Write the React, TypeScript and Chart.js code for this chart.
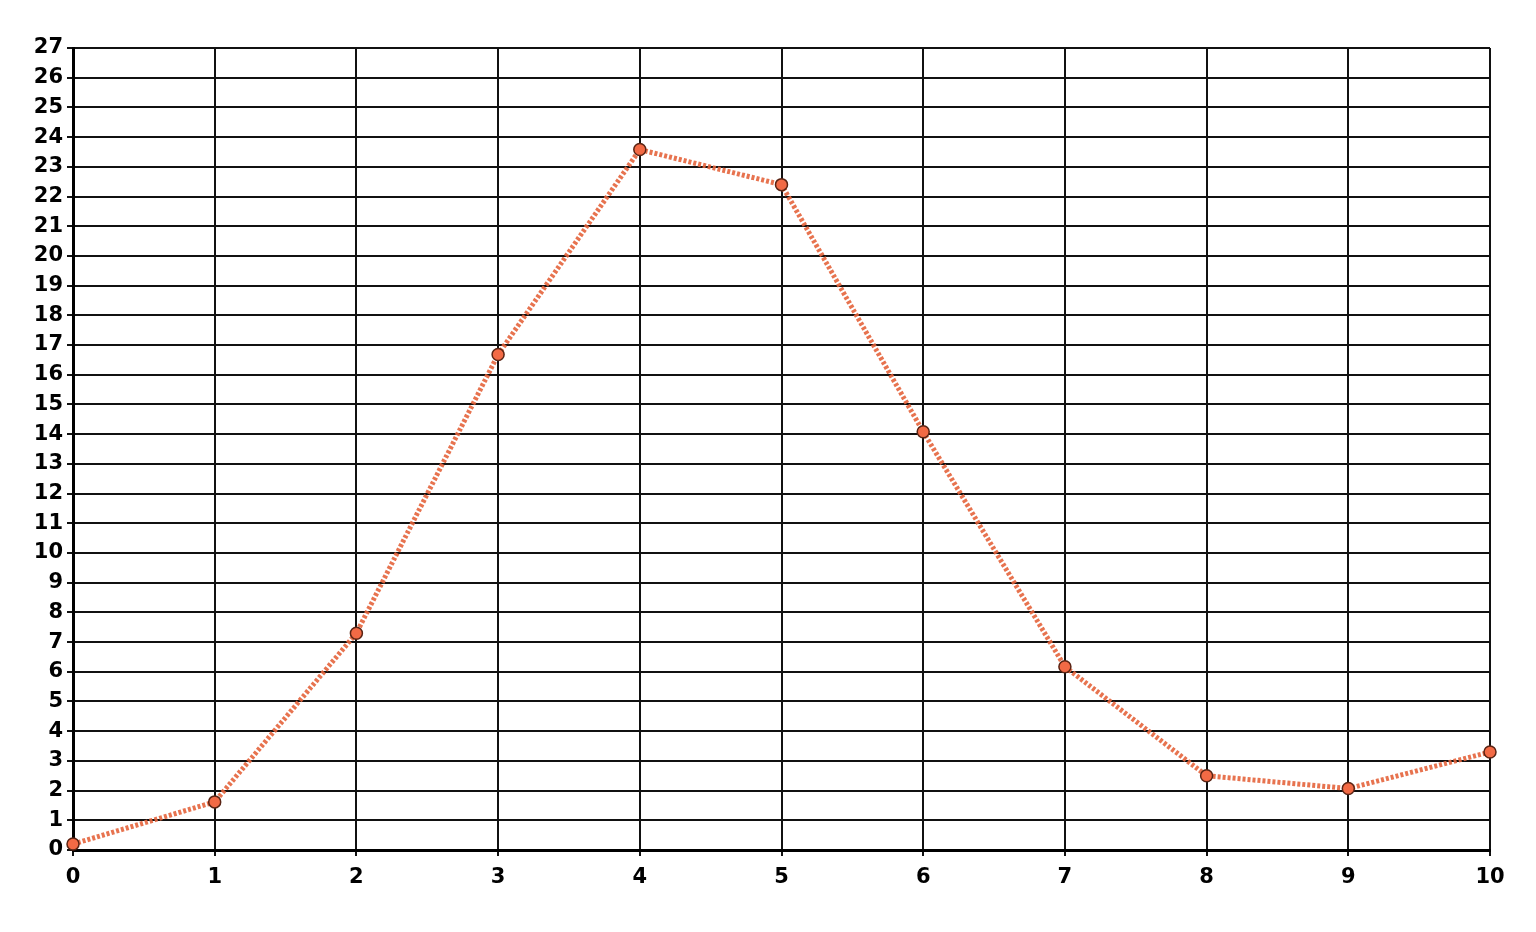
import React, { useEffect, useRef } from "react";
import { Chart, registerables } from "chart.js";

Chart.register(...registerables);

const xValues = [0, 1, 2, 3, 4, 5, 6, 7, 8, 9, 10];
const yValues = [0.2, 1.62, 7.3, 16.68, 23.58, 22.4, 14.08, 6.17, 2.5, 2.07, 3.3];

const Y_MIN = 0;
const Y_MAX = 27;
const X_MIN = 0;
const X_MAX = 10;

export default function App() {
  const ref = useRef<HTMLCanvasElement | null>(null);
  useEffect(() => {
    if (!ref.current) return;
    const font = { family: "'DejaVu Sans', Verdana, sans-serif", size: 21, weight: "bold" as const };
    const chart = new Chart(ref.current, {
      type: "line",
      data: {
        datasets: [
          {
            data: xValues.map((x, i) => ({ x, y: yValues[i] })),
            borderColor: "rgba(228,100,60,0.9)",
            borderWidth: 5,
            borderDash: [3, 2],
            tension: 0,
            pointRadius: 6,
            pointBackgroundColor: "#f26a45",
            pointBorderColor: "#5a2414",
            pointBorderWidth: 1.5,
            clip: false,
          },
        ],
      },
      options: {
        animation: false,
        responsive: false,
        maintainAspectRatio: false,
        layout: { padding: { left: 0, top: 48, right: 46, bottom: 0 } },
        plugins: { legend: { display: false }, tooltip: { enabled: false } },
        scales: {
          x: {
            type: "linear",
            min: X_MIN,
            max: X_MAX,
            ticks: { stepSize: 1, color: "#000", font, padding: 9 },
            grid: { color: "#111", lineWidth: 2, tickLength: 6 },
            border: { color: "#000", width: 3 },
            afterFit: (s: any) => {
              s.height = 82;
            },
          },
          y: {
            type: "linear",
            min: Y_MIN,
            max: Y_MAX,
            ticks: { stepSize: 1, color: "#000", font, padding: 4 },
            grid: { color: "#111", lineWidth: 2, tickLength: 6 },
            border: { color: "#000", width: 3 },
            afterFit: (s: any) => {
              s.width = 73;
            },
          },
        },
      },
    });
    return () => chart.destroy();
  }, []);
  return (
    <div style={{ position: "absolute", left: 0, top: 0, width: 1536, height: 932, background: "#fff" }}>
      <canvas ref={ref} width={1536} height={932} style={{ width: 1536, height: 932 }} />
    </div>
  );
}
